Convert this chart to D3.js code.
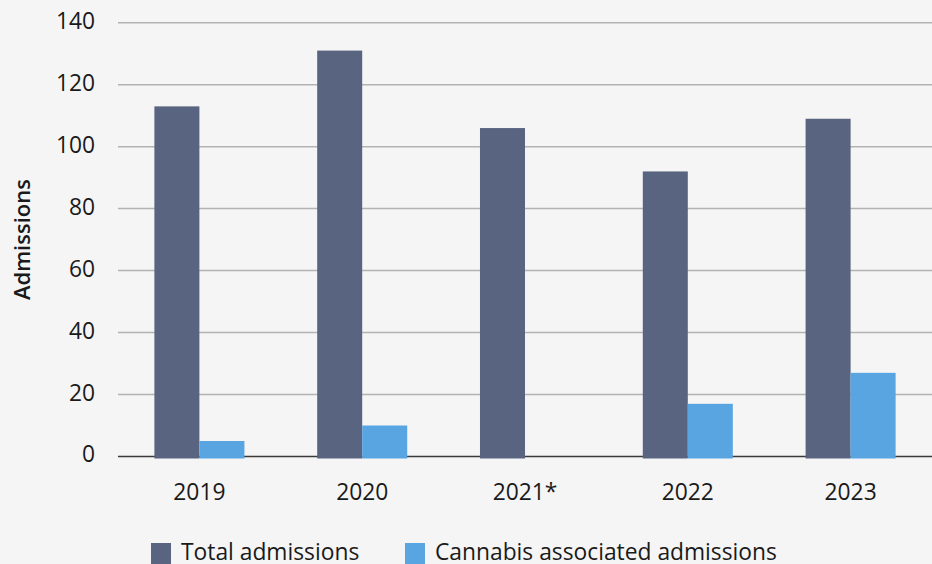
<!DOCTYPE html>
<html>
<head>
<meta charset="utf-8">
<script src="https://cdn.jsdelivr.net/npm/d3@7"></script>
<style>
  html, body { margin: 0; padding: 0; background: #f5f5f5; }
  svg { display: block; }
  text { font-family: "Open Sans", sans-serif; fill: #1a1a1a; }
</style>
</head>
<body>
<svg id="chart" width="932" height="564"></svg>
<script>
// Hospital admissions per year
const years = ["2019", "2020", "2021*", "2022", "2023"];
const totalAdmissions = [113, 131, 106, 92, 109];
const cannabisAdmissions = [5, 10, null, 17, 27];
const seriesNames = ["Total admissions", "Cannabis associated admissions"];
const seriesColors = ["#596580", "#58a5e2"];
const yTicks = [0, 20, 40, 60, 80, 100, 120, 140];

const width = 932, height = 564;
const margin = { top: 22.7, right: 0, bottom: 107.5, left: 118 };
const fontSize = 22.8;

const svg = d3.select("#chart");

const x = d3.scaleBand()
  .domain(years)
  .range([margin.left, width - margin.right])
  .paddingInner(0.447)
  .paddingOuter(0.2235);

const x1 = d3.scaleBand()
  .domain(seriesNames)
  .range([0, x.bandwidth()]);

const y = d3.scaleLinear()
  .domain([0, 140])
  .range([height - margin.bottom, margin.top]);

// Horizontal gridlines
svg.append("g")
  .selectAll("line")
  .data(yTicks.filter(d => d !== 0))
  .join("line")
  .attr("x1", margin.left)
  .attr("x2", width - margin.right)
  .attr("y1", d => y(d))
  .attr("y2", d => y(d))
  .attr("stroke", "#b3b3b3")
  .attr("stroke-width", 1.5);

// Baseline
svg.append("line")
  .attr("x1", margin.left)
  .attr("x2", width - margin.right)
  .attr("y1", y(0))
  .attr("y2", y(0))
  .attr("stroke", "#3a3a3a")
  .attr("stroke-width", 1.5);

// Y axis labels
const yAxis = d3.axisLeft(y).tickValues(yTicks).tickSize(0).tickPadding(23);
const gy = svg.append("g")
  .attr("transform", `translate(${margin.left},0)`)
  .call(yAxis);
gy.select(".domain").remove();
gy.selectAll("text")
  .attr("font-size", fontSize)
  .attr("font-family", "Open Sans, sans-serif")
  .attr("fill", "#1a1a1a")
  .attr("dy", "0.24em");

// X axis labels
const xAxis = d3.axisBottom(x).tickSize(0).tickPadding(27);
const gx = svg.append("g")
  .attr("transform", `translate(0,${y(0)})`)
  .call(xAxis);
gx.select(".domain").remove();
gx.selectAll("text")
  .attr("font-size", fontSize)
  .attr("font-family", "Open Sans, sans-serif")
  .attr("fill", "#1a1a1a");

// Bars
const rows = years.map((yr, i) => ({
  year: yr,
  values: [
    { key: seriesNames[0], value: totalAdmissions[i], color: seriesColors[0] },
    { key: seriesNames[1], value: cannabisAdmissions[i], color: seriesColors[1] }
  ]
}));

svg.append("g")
  .selectAll("g")
  .data(rows)
  .join("g")
  .attr("transform", d => `translate(${x(d.year)},0)`)
  .selectAll("rect")
  .data(d => d.values.filter(v => v.value != null))
  .join("rect")
  .attr("x", d => x1(d.key))
  .attr("width", x1.bandwidth())
  .attr("y", d => y(d.value))
  .attr("height", d => y(0) - y(d.value) + 2)
  .attr("fill", d => d.color);

// Y axis title
svg.append("text")
  .attr("transform", `translate(30,${(y(0) + y(140)) / 2}) rotate(-90)`)
  .attr("text-anchor", "middle")
  .attr("font-size", 22)
  .attr("font-weight", 600)
  .text("Admissions");

// Legend
const legendItems = [
  { name: seriesNames[0], color: seriesColors[0], x: 151 },
  { name: seriesNames[1], color: seriesColors[1], x: 405 }
];
const legend = svg.append("g")
  .selectAll("g")
  .data(legendItems)
  .join("g")
  .attr("transform", d => `translate(${d.x},543)`);
legend.append("rect")
  .attr("width", 20)
  .attr("height", 21)
  .attr("fill", d => d.color);
legend.append("text")
  .attr("x", 30)
  .attr("y", 16.5)
  .attr("font-size", fontSize)
  .text(d => d.name);
</script>
</body>
</html>
